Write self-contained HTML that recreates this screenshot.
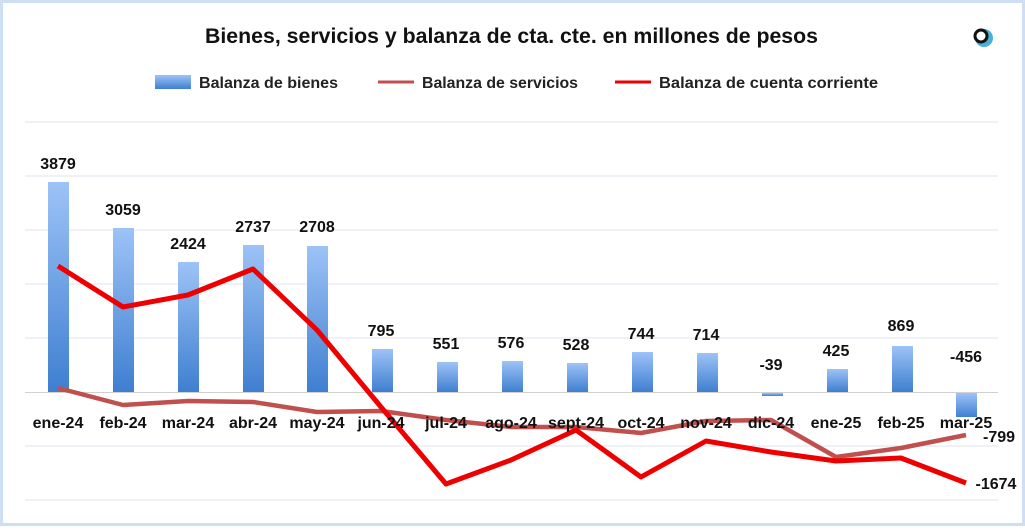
<!DOCTYPE html><html><head><meta charset="utf-8"><style>
body{margin:0;background:#fff}
svg text{font-family:"Liberation Sans","DejaVu Sans",sans-serif}
</style></head><body>
<svg width="1025" height="526" viewBox="0 0 1025 526" xmlns="http://www.w3.org/2000/svg">
<defs>
<linearGradient id="g" x1="0" y1="0" x2="0" y2="1"><stop offset="0" stop-color="#9dc3f7"/><stop offset="1" stop-color="#3f7fd0"/></linearGradient>
</defs>
<rect x="1.5" y="1.5" width="1022" height="523" fill="#fff" stroke="#cfdff3" stroke-width="3"/>
<text x="205" y="43" textLength="613" lengthAdjust="spacingAndGlyphs" font-size="21" font-weight="bold" fill="#111">Bienes, servicios y balanza de cta. cte. en millones de pesos</text>
<circle cx="984" cy="38" r="9" fill="#4ab0d8"/><circle cx="981" cy="36" r="6" fill="#fff" stroke="#111" stroke-width="3"/>
<rect x="155" y="75" width="36" height="14" fill="url(#g)"/>
<text x="199" y="88" textLength="139" lengthAdjust="spacingAndGlyphs" font-size="16" font-weight="bold" fill="#222">Balanza de bienes</text>
<line x1="378" y1="82" x2="414" y2="82" stroke="#c0504d" stroke-width="3"/>
<text x="422" y="88" textLength="156" lengthAdjust="spacingAndGlyphs" font-size="16" font-weight="bold" fill="#222">Balanza de servicios</text>
<line x1="615" y1="82" x2="651" y2="82" stroke="#ee0000" stroke-width="3"/>
<text x="659" y="88" textLength="219" lengthAdjust="spacingAndGlyphs" font-size="16" font-weight="bold" fill="#222">Balanza de cuenta corriente</text>
<g stroke="#dde4ee" stroke-width="1">
<line x1="25" y1="122" x2="998" y2="122"/><line x1="25" y1="176" x2="998" y2="176"/><line x1="25" y1="230" x2="998" y2="230"/><line x1="25" y1="284" x2="998" y2="284"/><line x1="25" y1="338" x2="998" y2="338"/><line x1="25" y1="446" x2="998" y2="446"/><line x1="25" y1="500" x2="998" y2="500"/>
</g>
<line x1="25" y1="392.5" x2="998" y2="392.5" stroke="#d0d0d0"/>
<g fill="url(#g)">
<rect x="48" y="182" width="21" height="210"/>
<rect x="113" y="228" width="21" height="164"/>
<rect x="178" y="262" width="21" height="130"/>
<rect x="243" y="245" width="21" height="147"/>
<rect x="307" y="246" width="21" height="146"/>
<rect x="372" y="349" width="21" height="43"/>
<rect x="437" y="362" width="21" height="30"/>
<rect x="502" y="361" width="21" height="31"/>
<rect x="567" y="363" width="21" height="29"/>
<rect x="632" y="352" width="21" height="40"/>
<rect x="697" y="353" width="21" height="39"/>
<rect x="762" y="393" width="21" height="3"/>
<rect x="827" y="369" width="21" height="23"/>
<rect x="892" y="346" width="21" height="46"/>
<rect x="956" y="393" width="21" height="24"/>
</g>
<polyline fill="none" stroke="#c0504d" stroke-width="4.5" stroke-linejoin="round" points="58,388 123,405 188,401 253,402 317,412 381,411 446,420 511,427 576,427 641,433 706,421 771,420 836,457 901,448 966,435"/>
<polyline fill="none" stroke="#ee0000" stroke-width="5" stroke-linejoin="round" points="58,266 123,307 188,295 253,269 317,330 381,407 446,484 511,460 576,430 641,477 706,441 771,452 836,461 901,458 966,483"/>
<g font-size="16" font-weight="bold" fill="#111" text-anchor="middle">
<text x="58" y="169">3879</text><text x="123" y="215">3059</text><text x="188" y="249">2424</text><text x="253" y="232">2737</text><text x="317" y="232">2708</text><text x="381" y="336">795</text><text x="446" y="349">551</text><text x="511" y="348">576</text><text x="576" y="350">528</text><text x="641" y="339">744</text><text x="706" y="340">714</text><text x="771" y="370">-39</text><text x="836" y="356">425</text><text x="901" y="331">869</text><text x="966" y="362">-456</text>
<text x="999" y="442">-799</text><text x="996" y="489">-1674</text>
</g>
<g font-size="16" font-weight="bold" fill="#111" text-anchor="middle">
<text x="58" y="428">ene-24</text><text x="123" y="428">feb-24</text><text x="188" y="428">mar-24</text><text x="253" y="428">abr-24</text><text x="317" y="428">may-24</text><text x="381" y="428">jun-24</text><text x="446" y="428">jul-24</text><text x="511" y="428">ago-24</text><text x="576" y="428">sept-24</text><text x="641" y="428">oct-24</text><text x="706" y="428">nov-24</text><text x="771" y="428">dic-24</text><text x="836" y="428">ene-25</text><text x="901" y="428">feb-25</text><text x="966" y="428">mar-25</text>
</g>
</svg>
</body></html>
